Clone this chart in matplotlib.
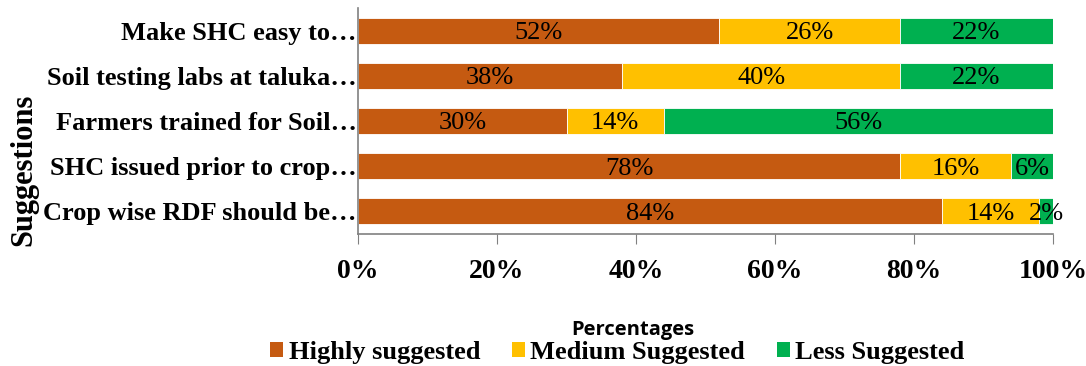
import matplotlib.pyplot as plt
from matplotlib.patches import Patch

# Data (top to bottom as shown in the chart)
suggestions = ["Make SHC easy to\u2026", "Soil testing labs at taluka\u2026",
               "Farmers trained for Soil\u2026", "SHC issued prior to crop\u2026",
               "Crop wise RDF should be\u2026"]
highly = [52, 38, 30, 78, 84]
medium = [26, 40, 14, 16, 14]
less = [22, 22, 56, 6, 2]
series_names = ["Highly suggested", "Medium Suggested", "Less Suggested"]
colors = ["#C55A11", "#FFC000", "#00B050"]
xticks = [0, 20, 40, 60, 80, 100]


def main():
    plt.rcParams['font.family'] = ['Liberation Serif', 'DejaVu Serif']
    fig = plt.figure(figsize=(10.86, 3.66), dpi=100)
    ax = fig.add_axes([0.3297, 0.361, 0.6399, 0.617])

    y = list(range(len(suggestions)))[::-1]
    left = [0] * len(suggestions)
    for vals, col in zip([highly, medium, less], colors):
        bars = ax.barh(y, vals, left=left, height=0.57, color=col,
                       edgecolor="white", linewidth=0.6)
        for b, v in zip(bars, vals):
            ax.text(b.get_x() + b.get_width() / 2, b.get_y() + b.get_height() / 2,
                    f"{v}%", ha="center", va="center_baseline", fontsize=19,
                    color="black")
        left = [l + v for l, v in zip(left, vals)]

    ax.set_xlim(0, 100)
    ax.set_ylim(-0.5, len(suggestions) - 0.5)
    ax.set_yticks(y)
    ax.set_yticklabels(suggestions, fontsize=19, fontweight="bold")
    ax.set_xticks(xticks)
    ax.set_xticklabels([f"{t}%" for t in xticks], fontsize=20, fontweight="bold")
    ax.tick_params(axis="y", length=0, pad=1)
    ax.tick_params(axis="x", direction="out", length=7, color="#808080", pad=11)
    for s in ["top", "right"]:
        ax.spines[s].set_visible(False)
    for s in ["left", "bottom"]:
        ax.spines[s].set_color("#808080")
        ax.spines[s].set_linewidth(1.2)

    fig.text(0.022, 0.535, "Suggestions", rotation=90, ha="center", va="center",
             fontsize=22, fontweight="bold")
    fig.text(0.583, 0.098, "Percentages", ha="center", va="center",
             fontsize=14.5, fontweight="bold", family=["Open Sans", "DejaVu Sans"])

    handles = [Patch(facecolor=c, edgecolor="none") for c in colors]
    fig.legend(handles, series_names, loc="center", bbox_to_anchor=(0.5685, 0.038),
               ncol=3, frameon=False, prop={"size": 19, "weight": "bold"},
               handlelength=0.5, handleheight=0.5, handletextpad=0.2,
               columnspacing=1.2, borderaxespad=0)

    fig.savefig("out.png", dpi=100)


if __name__ == "__main__":
    main()
